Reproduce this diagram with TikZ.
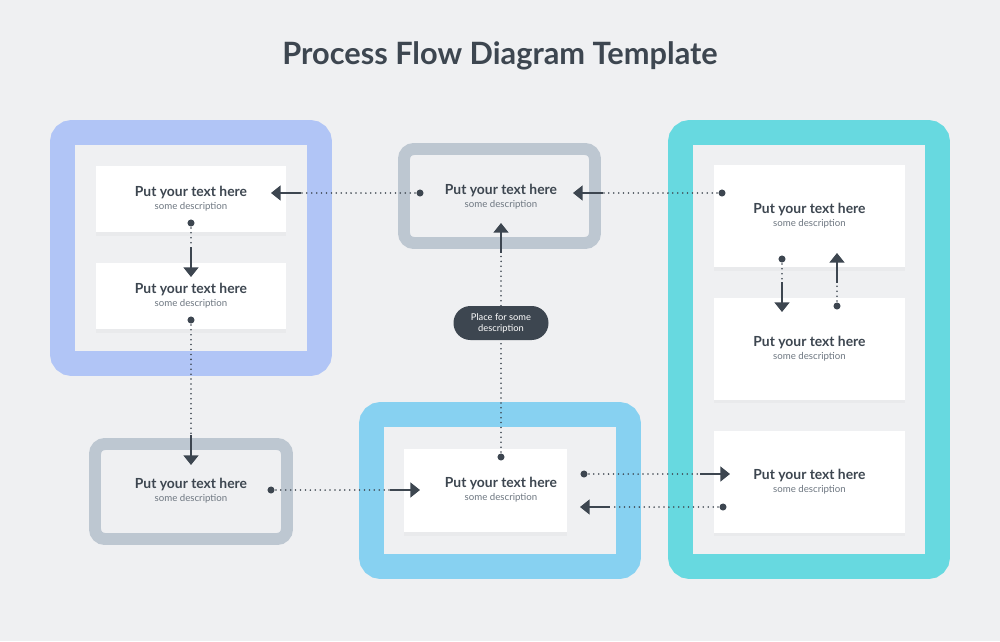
\documentclass[tikz,border=0pt]{standalone}
\usepackage{fontspec}
\setmainfont{Lato}
\usepackage{tikz}
\usetikzlibrary{arrows.meta,calc,shadows}
\definecolor{bgcol}{HTML}{EFF0F2}
\definecolor{inkcol}{HTML}{3D4650}
\definecolor{desccol}{HTML}{6E7781}
\definecolor{periwinkle}{HTML}{B1C5F6}
\definecolor{skyblue}{HTML}{87D1F1}
\definecolor{turquoise}{HTML}{67D9E0}
\definecolor{steelgray}{HTML}{BDC7D1}
\newcommand{\PutText}{\textbf{Put your text here}\\[-1pt]
  {\fontsize{5.5}{6.2}\selectfont\mdseries\color{desccol}some description}}

\begin{document}
\begin{tikzpicture}[x=0.2mm, y=-0.2mm,
  wideframe/.style={draw=#1, line width=14.2pt, rounded corners=5.4pt},
  slimframe/.style={draw=steelgray, line width=6.8pt, rounded corners=5.6pt},
  card/.style={fill=white, inner sep=0pt, align=center, text=inkcol,
               font=\fontsize{7.9}{8.4}\selectfont\bfseries,
               drop shadow={shadow xshift=0pt, shadow yshift=-2pt, opacity=0.05}},
  plain/.style={inner sep=0pt, align=center, text=inkcol,
                font=\fontsize{7.9}{8.4}\selectfont\bfseries},
  dot/.style={circle, fill=inkcol, inner sep=0pt, minimum size=4pt},
  dotline/.style={draw=inkcol, line width=1pt, line cap=round,
                  dash pattern=on 0pt off 2.8pt},
  head/.style={draw=inkcol, line width=1.1pt, -{Triangle[length=5.5pt, width=8.5pt]}}
]
% background and page size
\fill[bgcol] (0,0) rectangle (1000,641);
\useasboundingbox (0,0) rectangle (1000,641);

\node[text=inkcol, font=\fontsize{17.5}{19}\selectfont\bfseries] (title) at (500,56)
  {Process Flow Diagram Template};

% frames
\draw[wideframe=periwinkle] (62.5,132.5) rectangle (319.5,363.5);
\draw[wideframe=skyblue] (371.5,414.5) rectangle (628.5,566.5);
\draw[wideframe=turquoise] (680.5,132.5) rectangle (937.5,566.5);
\draw[slimframe] (404,149) rectangle (595,243);
\draw[slimframe] (95,444) rectangle (287,539);

% cards
\node[card, minimum width=38mm, minimum height=13.2mm] (leftA) at (191,199) {\PutText};
\node[card, minimum width=38mm, minimum height=13.2mm] (leftB) at (191,296) {\PutText};
\node[card, minimum width=32.6mm, minimum height=16.6mm] (botmid) at (485.5,490.5) {};
\node[plain] (botmidtext) at (501,489.5) {\PutText};
\node[card, minimum width=38.2mm, minimum height=20.4mm] (rightA) at (809.5,216) {\PutText};
\node[card, minimum width=38.2mm, minimum height=20.4mm] (rightB) at (809.5,348.5) {\PutText};
\node[card, minimum width=38.2mm, minimum height=20.4mm] (rightC) at (809.5,481.5) {\PutText};
\node[plain] (topmid) at (501,196.5) {\PutText};
\node[plain] (botleft) at (191,490.5) {\PutText};

\node[fill=inkcol, text=white, rounded corners=9.6pt, minimum width=19mm,
      minimum height=6.8mm, inner sep=0pt, align=center,
      font=\fontsize{5.3}{6.3}\selectfont] (pill) at (501,323)
  {Place for some\\description};

% start dots
\node[dot] (d1) at (191,223) {};
\node[dot] (d2) at (191,320) {};
\node[dot] (d3) at (271,490) {};
\node[dot] (d4) at (501,457) {};
\node[dot] (d5) at (420,193) {};
\node[dot] (d6) at (722,193) {};
\node[dot] (d7) at (782,259) {};
\node[dot] (d8) at (837,306) {};
\node[dot] (d9) at (584,474) {};
\node[dot] (d10) at (723,507) {};

% arrow tips
\coordinate (t1) at (191,277);
\coordinate (t2) at (191,465);
\coordinate (t3) at (420,490);
\coordinate (t4) at (501,223);
\coordinate (t5) at (271,193);
\coordinate (t6) at (573,193);
\coordinate (t7) at (782,312);
\coordinate (t8) at (837,253);
\coordinate (t9) at (730,474);
\coordinate (t10) at (580,507);

% connectors
\draw[dotline] (d1.center) -- ($(t1)!17pt!(d1)$);
\draw[head] ($(t1)!17pt!(d1)$) -- (t1);
\draw[dotline] (d2.center) -- ($(t2)!17pt!(d2)$);
\draw[head] ($(t2)!17pt!(d2)$) -- (t2);
\draw[dotline] (d3.center) -- ($(t3)!17pt!(d3)$);
\draw[head] ($(t3)!17pt!(d3)$) -- (t3);
\draw[dotline] (d4.center) -- (pill);
\draw[dotline] (pill) -- ($(t4)!17pt!(pill)$);
\draw[head] ($(t4)!17pt!(pill)$) -- (t4);
\draw[dotline] (d5.center) -- ($(t5)!17pt!(d5)$);
\draw[head] ($(t5)!17pt!(d5)$) -- (t5);
\draw[dotline] (d6.center) -- ($(t6)!17pt!(d6)$);
\draw[head] ($(t6)!17pt!(d6)$) -- (t6);
\draw[dotline] (d7.center) -- ($(t7)!17pt!(d7)$);
\draw[head] ($(t7)!17pt!(d7)$) -- (t7);
\draw[dotline] (d8.center) -- ($(t8)!17pt!(d8)$);
\draw[head] ($(t8)!17pt!(d8)$) -- (t8);
\draw[dotline] (d9.center) -- ($(t9)!17pt!(d9)$);
\draw[head] ($(t9)!17pt!(d9)$) -- (t9);
\draw[dotline] (d10.center) -- ($(t10)!17pt!(d10)$);
\draw[head] ($(t10)!17pt!(d10)$) -- (t10);
\end{tikzpicture}
\end{document}
